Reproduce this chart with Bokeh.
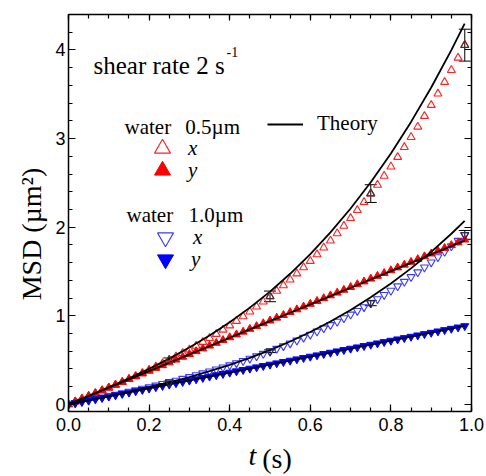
from bokeh.plotting import figure
from bokeh.models import (Range1d, LinearAxis, SingleIntervalTicker, FixedTicker, PrintfTickFormatter,
                          Label, Legend, LegendItem, Whisker, TeeHead, ColumnDataSource)
from bokeh.core.properties import value
from bokeh.embed import file_html
from bokeh.resources import INLINE

# ---- data ----
t = [0.0, 0.0167, 0.0333, 0.05, 0.0667, 0.0833, 0.1, 0.1167, 0.1333, 0.15,
     0.1667, 0.1833, 0.2, 0.2167, 0.2333, 0.25, 0.2667, 0.2833, 0.3, 0.3167,
     0.3333, 0.35, 0.3667, 0.3833, 0.4, 0.4167, 0.4333, 0.45, 0.4667, 0.4833,
     0.5, 0.5167, 0.5333, 0.55, 0.5667, 0.5833, 0.6, 0.6167, 0.6333, 0.65,
     0.6667, 0.6833, 0.7, 0.7167, 0.7333, 0.75, 0.7667, 0.7833, 0.8, 0.8167,
     0.8333, 0.85, 0.8667, 0.8833, 0.9, 0.9167, 0.9333, 0.95, 0.9667, 0.9833]

msd_05_x = [0.0, 0.031, 0.062, 0.093, 0.124, 0.156, 0.187, 0.220, 0.252, 0.285,
            0.319, 0.354, 0.389, 0.425, 0.462, 0.499, 0.538, 0.578, 0.618, 0.660,
            0.704, 0.748, 0.794, 0.842, 0.890, 0.941, 0.993, 1.047, 1.102, 1.160,
            1.219, 1.280, 1.343, 1.408, 1.476, 1.546, 1.618, 1.692, 1.769, 1.848,
            1.930, 2.014, 2.101, 2.191, 2.283, 2.379, 2.477, 2.579, 2.683, 2.791,
            2.902, 3.016, 3.133, 3.254, 3.378, 3.506, 3.637, 3.772, 3.911, 4.054]

msd_05_y = [0.0, 0.032, 0.063, 0.095, 0.126, 0.158, 0.189, 0.221, 0.252, 0.284,
            0.315, 0.347, 0.378, 0.410, 0.441, 0.473, 0.504, 0.536, 0.567, 0.599,
            0.630, 0.662, 0.693, 0.725, 0.756, 0.788, 0.819, 0.851, 0.882, 0.914,
            0.945, 0.977, 1.008, 1.040, 1.071, 1.103, 1.134, 1.166, 1.197, 1.229,
            1.260, 1.292, 1.323, 1.355, 1.386, 1.418, 1.449, 1.481, 1.512, 1.544,
            1.575, 1.607, 1.638, 1.670, 1.701, 1.733, 1.764, 1.796, 1.827, 1.859]

msd_10_x = [0.0, 0.016, 0.031, 0.047, 0.063, 0.079, 0.095, 0.111, 0.128, 0.145,
            0.161, 0.179, 0.196, 0.214, 0.233, 0.251, 0.270, 0.290, 0.310, 0.331,
            0.352, 0.374, 0.396, 0.419, 0.443, 0.467, 0.492, 0.518, 0.544, 0.572,
            0.600, 0.629, 0.659, 0.690, 0.722, 0.755, 0.789, 0.824, 0.860, 0.897,
            0.935, 0.974, 1.015, 1.057, 1.099, 1.144, 1.189, 1.236, 1.284, 1.334,
            1.385, 1.438, 1.492, 1.547, 1.604, 1.663, 1.723, 1.785, 1.848, 1.913]

msd_10_y = [0.0, 0.015, 0.030, 0.045, 0.060, 0.075, 0.090, 0.105, 0.120, 0.135,
            0.150, 0.165, 0.180, 0.195, 0.210, 0.225, 0.240, 0.255, 0.270, 0.285,
            0.300, 0.315, 0.330, 0.345, 0.360, 0.375, 0.390, 0.405, 0.420, 0.435,
            0.450, 0.465, 0.480, 0.495, 0.510, 0.525, 0.540, 0.555, 0.570, 0.585,
            0.600, 0.615, 0.630, 0.645, 0.660, 0.675, 0.690, 0.705, 0.720, 0.735,
            0.750, 0.765, 0.780, 0.795, 0.810, 0.825, 0.840, 0.855, 0.870, 0.885]

t_theory = [0.0, 0.05, 0.1, 0.15, 0.2, 0.25, 0.3, 0.35, 0.4, 0.45, 0.5,
            0.55, 0.6, 0.65, 0.7, 0.75, 0.8, 0.85, 0.9, 0.95, 0.983]
theory_05_x = [0.0, 0.096, 0.194, 0.295, 0.402, 0.517, 0.642, 0.778, 0.927, 1.092, 1.273,
               1.474, 1.696, 1.941, 2.211, 2.507, 2.832, 3.188, 3.576, 3.998, 4.297]
theory_05_y = [0.0, 0.094, 0.188, 0.282, 0.376, 0.470, 0.564, 0.658, 0.752, 0.846, 0.940,
               1.034, 1.128, 1.222, 1.316, 1.410, 1.504, 1.598, 1.692, 1.786, 1.848]
theory_10_x = [0.0, 0.046, 0.093, 0.142, 0.194, 0.249, 0.309, 0.375, 0.447, 0.526, 0.613,
               0.710, 0.817, 0.935, 1.065, 1.208, 1.364, 1.535, 1.722, 1.926, 2.070]
theory_10_y = [0.0, 0.045, 0.090, 0.135, 0.180, 0.225, 0.270, 0.315, 0.360, 0.405, 0.450,
               0.495, 0.540, 0.585, 0.630, 0.675, 0.720, 0.765, 0.810, 0.855, 0.885]

err_idx = [15, 30, 45, 59]
err_05_x = [0.025, 0.06, 0.10, 0.18]
err_10_x = [0.01, 0.015, 0.03, 0.05]

SERIF = "Liberation Serif"
SANS = "Liberation Sans"
NB = "\u00a0"

p = figure(width=486, height=476, x_range=Range1d(0, 1.0), y_range=Range1d(-0.08, 4.4),
           output_backend="svg", toolbar_location=None,
           min_border_left=68, min_border_right=15, min_border_top=14, min_border_bottom=64)
p.xgrid.visible = False
p.ygrid.visible = False
p.outline_line_color = None
p.background_fill_color = "white"
p.border_fill_color = "white"

def style_axis(ax, labels=True, tin=7, mtin=4):
    ax.axis_line_width = 1.5
    ax.axis_line_color = "black"
    ax.major_tick_in = tin
    ax.major_tick_out = 0
    ax.minor_tick_in = mtin
    ax.minor_tick_out = 0
    ax.major_tick_line_width = 1.2
    ax.minor_tick_line_width = 1.2
    ax.major_tick_line_color = "black"
    ax.minor_tick_line_color = "black"
    if labels:
        ax.major_label_text_font = SANS
        ax.major_label_text_font_size = "18px"
        ax.major_label_text_color = "black"
    else:
        ax.major_label_text_font_size = "6px"
        ax.major_label_text_color = None
        ax.major_label_text_alpha = 0
        ax.major_label_standoff = 0

bx = p.xaxis[0]
bx.ticker = SingleIntervalTicker(interval=0.2, num_minor_ticks=4)
bx.formatter = PrintfTickFormatter(format="%.1f")
style_axis(bx)
bx.major_label_standoff = 6
bx.axis_label = "t" + NB * 5
bx.axis_label_text_font = SERIF
bx.axis_label_text_font_size = "28px"
bx.axis_label_text_font_style = "italic"
bx.axis_label_text_color = "black"
bx.axis_label_standoff = 6

ly = p.yaxis[0]
ly.ticker = SingleIntervalTicker(interval=1, num_minor_ticks=5)
ly.formatter = PrintfTickFormatter(format="%d")
style_axis(ly)
ly.major_label_standoff = 3
ly.axis_label = "MSD (\u00b5m\u00b2)" + NB * 6
ly.axis_label_text_font = SERIF
ly.axis_label_text_font_size = "28px"
ly.axis_label_text_font_style = "normal"
ly.axis_label_text_color = "black"
ly.axis_label_standoff = 5

# second bottom axis only carries the upright "(s)" on the same line as the italic "t"
bx2 = LinearAxis(ticker=FixedTicker(ticks=[]), axis_line_color=None,
                 major_tick_in=0, major_tick_out=0, minor_tick_in=0, minor_tick_out=0,
                 major_label_standoff=0, major_label_text_font_size="6px",
                 major_label_text_color=None,
                 axis_label=NB * 2 + "(s)", axis_label_text_font=SERIF,
                 axis_label_text_font_size="28px", axis_label_text_font_style="normal",
                 axis_label_text_color="black", axis_label_standoff=-31)
p.add_layout(bx2, "below")

top = LinearAxis(ticker=SingleIntervalTicker(interval=0.2, num_minor_ticks=4))
style_axis(top, labels=False, tin=6, mtin=4)
p.add_layout(top, "above")
right = LinearAxis(ticker=SingleIntervalTicker(interval=1, num_minor_ticks=5))
style_axis(right, labels=False, tin=7, mtin=4)
p.add_layout(right, "right")

# ---- data markers ----
r05x = p.scatter(t, msd_05_x, marker="triangle", size=8, fill_color=None,
                 line_color="#ff2020", line_width=1.1)
r10x = p.scatter(t, msd_10_x, marker="inverted_triangle", size=8, fill_color=None,
                 line_color="#3a3aff", line_width=1.1)
r05y = p.scatter(t, msd_05_y, marker="triangle", size=8, fill_color="red",
                 line_color="red", line_width=1)
r10y = p.scatter(t, msd_10_y, marker="inverted_triangle", size=8, fill_color="blue",
                 line_color="blue", line_width=1)

# ---- theory ----
lw = 1.8
th05x = p.line(t_theory, theory_05_x, line_color="black", line_width=lw)
p.line(t_theory, theory_05_y, line_color="black", line_width=lw)
p.line(t_theory, theory_10_x, line_color="black", line_width=lw)
p.line(t_theory, theory_10_y, line_color="black", line_width=lw)

# ---- error bars ----
for series, errs, mk, col in [(msd_05_x, err_05_x, "triangle", "#4a2a2a"),
                              (msd_10_x, err_10_x, "inverted_triangle", "#2a2a50")]:
    tb = [t[i] for i in err_idx]
    yb = [series[i] for i in err_idx]
    src = ColumnDataSource(dict(base=tb, mid=yb,
                                upper=[y + e for y, e in zip(yb, errs)],
                                lower=[y - e for y, e in zip(yb, errs)]))
    p.scatter("base", "mid", source=src, marker=mk, size=8, fill_color=None,
              line_color=col, line_width=1.2)
    w = Whisker(source=src, base="base", upper="upper", lower="lower", dimension="height",
                line_color="black", line_width=1,
                upper_head=TeeHead(size=12, line_color="black", line_width=1),
                lower_head=TeeHead(size=12, line_color="black", line_width=1))
    p.add_layout(w)

# ---- legends (one item each) ----
def one_legend(r, text, vx, vy, gw, gh, standoff, style):
    lg = Legend(items=[LegendItem(label=value(text), renderers=[r])], location=(vx, vy),
                padding=0, margin=0, spacing=0, glyph_width=gw, glyph_height=gh,
                label_height=gh, label_standoff=standoff,
                label_text_font=SERIF, label_text_font_size="21px",
                label_text_font_style=style, label_text_color="black",
                background_fill_alpha=0, border_line_alpha=0)
    p.add_layout(lg)

one_legend(r05x, "x", 74, 243, 40, 40, 6, "italic")
one_legend(r05y, "y", 74, 221, 40, 40, 6, "italic")
one_legend(r10x, "x", 77, 154, 40, 40, 8, "italic")
one_legend(r10y, "y", 77, 132, 40, 40, 6, "italic")
one_legend(th05x, "Theory", 199, 275, 36, 20, 14, "normal")

# ---- texts inside the frame ----
def lab(x, y, text, size, style="normal"):
    p.add_layout(Label(x=x, y=y, text=text, text_font=SERIF, text_font_size=size,
                       text_font_style=style, text_align="left", text_baseline="alphabetic",
                       text_color="black"))

lab(0.062, 3.823, "shear rate 2 s", "25px")
lab(0.392, 3.972, "-1", "14px")
lab(0.139, 3.134, "water", "21px")
lab(0.290, 3.134, "0.5\u00b5m", "21px")
lab(0.144, 2.132, "water", "21px")
lab(0.298, 2.132, "1.0\u00b5m", "21px")

open("out.html", "w").write(file_html(p, INLINE))
